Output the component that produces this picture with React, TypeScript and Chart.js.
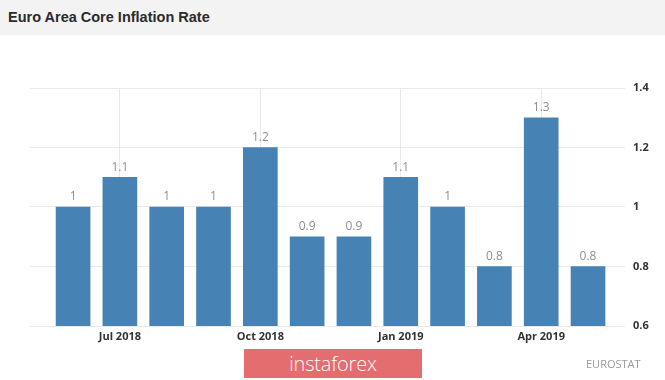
import React, { useEffect, useRef } from "react";
import { Chart, registerables } from "chart.js";

Chart.register(...registerables);

const months = ["Jun 2018", "Jul 2018", "Aug 2018", "Sep 2018", "Oct 2018", "Nov 2018", "Dec 2018", "Jan 2019", "Feb 2019", "Mar 2019", "Apr 2019", "May 2019"];
const values = [1, 1.1, 1, 1, 1.2, 0.9, 0.9, 1.1, 1, 0.8, 1.3, 0.8];
const tickIndexes = [1, 4, 7, 10];
const yTicks = [0.6, 0.8, 1, 1.2, 1.4];

const labelPlugin = {
  id: "barLabels",
  afterDatasetsDraw(chart: any) {
    const ctx = chart.ctx;
    const meta = chart.getDatasetMeta(0);
    ctx.save();
    ctx.font = "12px 'Open Sans', sans-serif";
    ctx.fillStyle = "#8f8f8f";
    ctx.textAlign = "center";
    ctx.textBaseline = "middle";
    meta.data.forEach((el: any, i: number) => {
      ctx.fillText(String(values[i]), el.x, el.y - 10);
    });
    ctx.restore();
  },
};

export default function App() {
  const ref = useRef<HTMLCanvasElement>(null);
  useEffect(() => {
    if (!ref.current) return;
    const chart = new Chart(ref.current, {
      type: "bar",
      data: {
        datasets: [
          {
            label: "Core Inflation Rate",
            data: values.map((v, i) => ({ x: i, y: v })),
            backgroundColor: "#4682b4",
            barThickness: 34,
          },
        ],
      },
      options: {
        animation: false,
        responsive: false,
        maintainAspectRatio: false,
        layout: { padding: { left: 30, top: 88, right: 0, bottom: 0 } },
        plugins: { legend: { display: false }, tooltip: { enabled: false } },
        scales: {
          x: {
            type: "linear",
            offset: false,
            min: -0.92,
            max: 11.79,
            afterBuildTicks(scale: any) {
              scale.ticks = tickIndexes.map((v) => ({ value: v }));
            },
            afterFit(scale: any) {
              scale.height = 54;
            },
            ticks: {
              autoSkip: false,
              maxRotation: 0,
              padding: 4,
              color: "#333",
              font: { family: "'Open Sans', sans-serif", size: 11, weight: "bold" },
              callback: (v: any) => months[v] ?? "",
            },
            grid: { color: "#e9e9e9", drawTicks: false, offset: false },
            border: { display: false },
          },
          y: {
            position: "right",
            min: 0.6,
            max: 1.4,
            afterBuildTicks(scale: any) {
              scale.ticks = yTicks.map((v) => ({ value: v }));
            },
            afterFit(scale: any) {
              scale.width = 40;
            },
            ticks: {
              padding: 8,
              color: "#333",
              font: { family: "'Open Sans', sans-serif", size: 11, weight: "bold" },
              callback: (v: any) => String(Math.round(v * 10) / 10),
            },
            grid: { color: "#e9e9e9", drawTicks: false },
            border: { display: false },
          },
        },
      },
      plugins: [labelPlugin],
    });
    return () => chart.destroy();
  }, []);

  return (
    <div style={{ position: "absolute", left: 0, top: 0, width: 665, height: 380, background: "#fff", overflow: "hidden" }}>
      <div
        style={{
          position: "absolute",
          left: 0,
          top: 0,
          width: 665,
          height: 35,
          background: "#f3f3f3",
        }}
      />
      <div
        style={{
          position: "absolute",
          left: 8,
          top: 8,
          fontFamily: "'Liberation Sans', Arial, sans-serif",
          fontWeight: "bold",
          fontSize: 14.5,
          color: "#2b2b2b",
          lineHeight: "18px",
        }}
      >
        Euro Area Core Inflation Rate
      </div>
      <canvas ref={ref} width={665} height={380} style={{ position: "absolute", left: 0, top: 0, width: 665, height: 380 }} />
      <div
        style={{
          position: "absolute",
          left: 244,
          top: 349,
          width: 178,
          height: 29,
          background: "#e46d6f",
          color: "#fff",
          fontFamily: "'Open Sans', sans-serif",
          fontWeight: 300,
          fontSize: 20,
          lineHeight: "29px",
          textAlign: "center",
          letterSpacing: -0.2,
        }}
      >
        instaforex
      </div>
      <div
        style={{
          position: "absolute",
          left: 586,
          top: 357,
          fontFamily: "'Open Sans', sans-serif",
          fontSize: 11,
          color: "#9a9a9a",
          lineHeight: "14px",
        }}
      >
        EUROSTAT
      </div>
    </div>
  );
}
